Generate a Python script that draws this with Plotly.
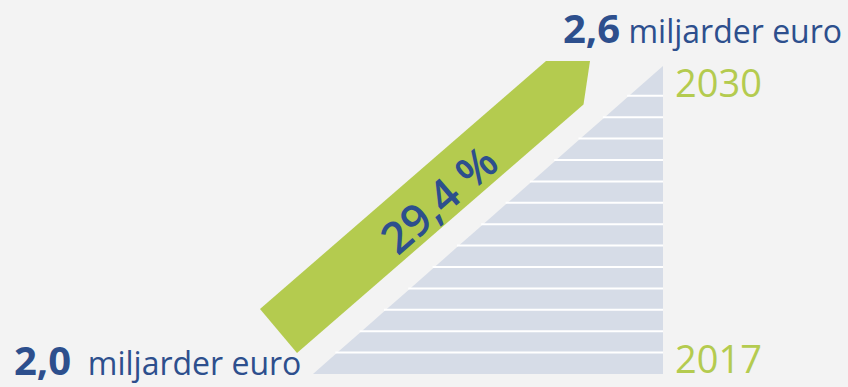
import plotly.graph_objects as go

# Data
years = [2017, 2018, 2019, 2020, 2021, 2022, 2023, 2024, 2025, 2026, 2027, 2028, 2029, 2030]
start_value = 2.0        # miljarder euro, 2017
end_value = 2.6          # miljarder euro, 2030
growth_pct = 29.4        # procent
unit_label = "miljarder euro"

# Styling
BG = "#f3f3f3"
NAVY = "#2d4f8d"
GREEN = "#b4cb4f"
ROW_FILL = "#d6dce7"
FONT = "Open Sans"

W, H = 848, 387

# Staircase triangle geometry (pixel space)
base_y, apex_y = 374.0, 66.0
left_x, right_x = 313.0, 663.0
row_h = 21.4
slope = (right_x - left_x) / (base_y - apex_y)


def diag_x(y):
    return left_x + (base_y - y) * slope


def fmt(v):
    return f"{v:.1f}".replace(".", ",")


def value_label(v, gap="  "):
    return (f"<span style='font-size:40px'><b>{fmt(v)}</b></span>"
            f"<span style='font-size:32px'>{gap}{unit_label}</span>")


shapes = []
n = len(years)
bounds = [base_y - i * row_h for i in range(n)] + [apex_y]
for i, yr in enumerate(years):
    yb, yt = bounds[i], bounds[i + 1]
    path = (f"M{diag_x(yb)},{yb} L{right_x},{yb} L{right_x},{yt} "
            f"L{diag_x(yt)},{yt} Z")
    shapes.append(dict(type="path", path=path, fillcolor=ROW_FILL,
                       line=dict(width=0), layer="below"))
for yb in bounds[1:-1]:
    shapes.append(dict(type="line", x0=diag_x(yb) - 2, x1=right_x, y0=yb, y1=yb,
                       line=dict(color="#ffffff", width=2)))

# Growth arrow band
arrow = [(260, 309), (546, 61), (590, 61), (583.5, 104.5), (297, 353)]
arrow_path = "M" + " L".join(f"{x},{y}" for x, y in arrow) + " Z"
shapes.append(dict(type="path", path=arrow_path, fillcolor=GREEN,
                   line=dict(width=0)))

annotations = [
    dict(xref="paper", yref="paper", x=1, y=1 - 27 / H, xshift=-4,
         xanchor="right", yanchor="middle",
         text=value_label(end_value, gap=" "),
         font=dict(family=FONT, color=NAVY, size=32), showarrow=False),
    dict(x=12, y=359, xanchor="left", yanchor="middle",
         text=value_label(start_value),
         font=dict(family=FONT, color=NAVY, size=32), showarrow=False),
    dict(x=673, y=82, xanchor="left", yanchor="middle", text=str(years[-1]),
         font=dict(family=FONT, color=GREEN, size=38), showarrow=False),
    dict(x=673, y=358, xanchor="left", yanchor="middle", text=str(years[0]),
         font=dict(family=FONT, color=GREEN, size=38), showarrow=False),
    dict(x=438, y=199, xanchor="center", yanchor="middle",
         text=f"{fmt(growth_pct)} %", textangle=-41,
         font=dict(family=FONT, color=NAVY, size=44, weight=600),
         showarrow=False),
]

fig = go.Figure()
fig.update_layout(
    width=W, height=H,
    margin=dict(l=0, r=0, t=0, b=0),
    paper_bgcolor=BG, plot_bgcolor=BG,
    xaxis=dict(range=[0, W], visible=False, fixedrange=True),
    yaxis=dict(range=[H, 0], visible=False, fixedrange=True),
    shapes=shapes, annotations=annotations, showlegend=False,
)

fig.write_html("out.html", config=dict(displayModeBar=False))
